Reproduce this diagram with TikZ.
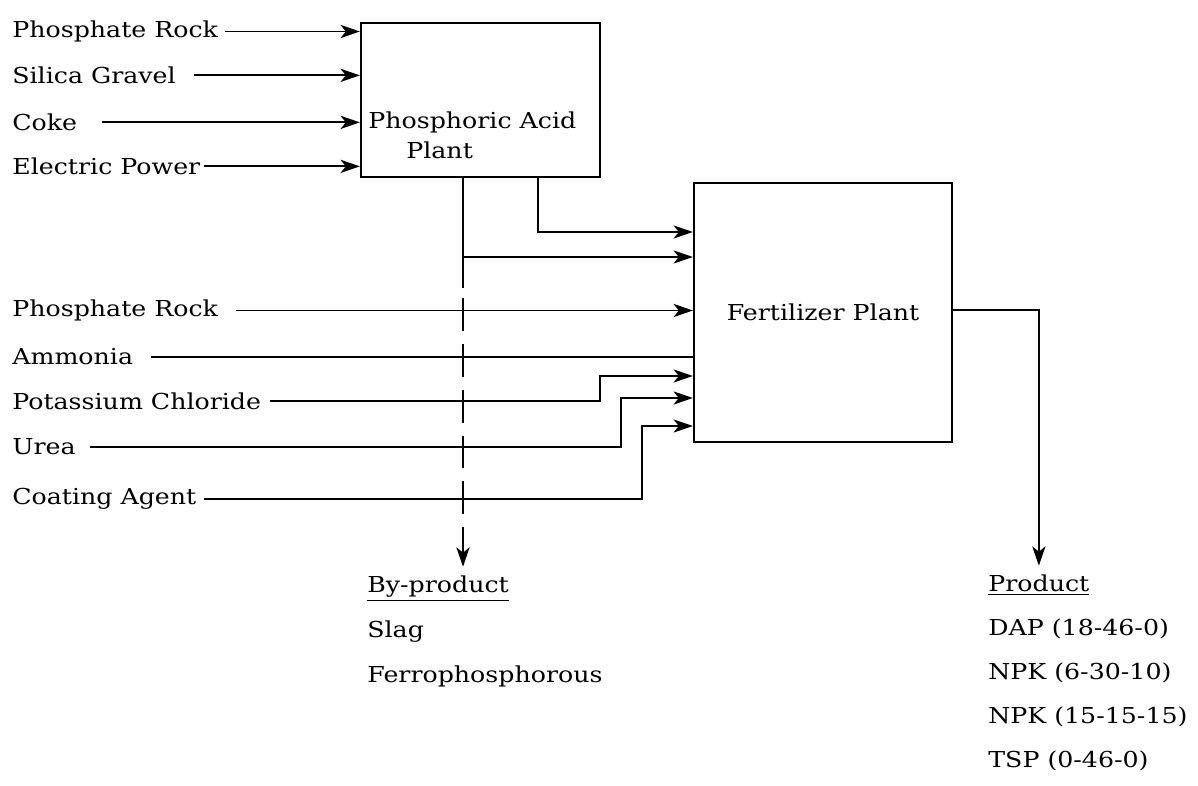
\documentclass[tikz,border=0pt]{standalone}
\usepackage{fontspec}
\setmainfont{DejaVu Serif}[FakeStretch=1.15]
\usetikzlibrary{arrows.meta,positioning,calc}
\tikzset{
  pipe/.style={line width=1.1pt},
  feed/.style={pipe, -{Stealth[length=11pt,width=7.5pt,inset=3pt]}},
  tag/.style={anchor=mid west, inner sep=0pt, font=\fontsize{12.5}{15}\selectfont},
  plant/.style={draw, line width=1.3pt, inner sep=0pt, font=\fontsize{12.5}{15}\selectfont},
}

\begin{document}
\begin{tikzpicture}[x=0.02cm,y=-0.02cm]
  \useasboundingbox (0,0) rectangle (1198,786);
  % the two plants
  \node[plant, minimum width=4.78cm, minimum height=3.08cm] (acid) at (480.5,100) {};
  \node[tag] (acidname) at (368,124) {Phosphoric Acid};
  \node[tag] (acidname2) at (406,154) {Plant};
  \node[plant, minimum width=5.16cm, minimum height=5.18cm] (fert) at (823,312.5) {Fertilizer Plant};
  % feeds of the acid plant
  \node[tag] (rockA)  at (12,33)  {Phosphate Rock};
  \node[tag] (silica) at (12,79)  {Silica Gravel};
  \node[tag] (coke)   at (12,126) {Coke};
  \node[tag] (power)  at (12,170) {Electric Power};
  \draw[feed, shorten <=4pt]  (rockA)  -- (rockA -| acid.west);
  \draw[feed, shorten <=10pt] (silica) -- (silica -| acid.west);
  \draw[feed, shorten <=14pt] (coke)   -- (coke -| acid.west);
  \draw[feed, shorten <=2pt]  (power)  -- (power -| acid.west);
  % feeds of the fertilizer plant
  \node[tag] (rockB)   at (12,312) {Phosphate Rock};
  \node[tag] (ammonia) at (12,360) {Ammonia};
  \node[tag] (kcl)     at (12,405) {Potassium Chloride};
  \node[tag] (urea)    at (12,450) {Urea};
  \node[tag] (coating) at (12,500) {Coating Agent};
  \draw[feed, shorten <=10pt] (rockB) -- (rockB -| fert.west);
  \draw[pipe, shorten <=10pt] (ammonia) -- (ammonia -| fert.west);
  \draw[feed, shorten <=5pt] (kcl) -- (kcl -| 600,0) |- (fert.west |- 0,376);
  \draw[feed, shorten <=8pt] (urea) -- (urea -| 621,0) |- (fert.west |- 0,398);
  \draw[feed, shorten <=4pt] (coating) -- (coating -| 642,0) |- (fert.west |- 0,426);
  % acid to fertilizer, and the by-product drop
  \coordinate (branch) at (463,257);
  \coordinate (dashtop) at (463,298);
  \draw[feed] (acid.south -| 538,0) |- (fert.west |- 0,232);
  \draw[pipe] (acid.south -| 463,0) -- (463,288);
  \draw[feed] (branch) -- (fert.west |- branch);
  \node[tag] (byprod) at (367,588) {\underline{By-product}};
  \node[tag] (slag)   at (367,633) {Slag};
  \node[tag] (ferro)  at (367,678) {Ferrophosphorous};
  \draw[feed, dash pattern=on 18.7pt off 7.4pt, shorten >=5pt] (dashtop) -- (byprod.north -| dashtop);
  % product
  \node[tag] (prod) at (988,587) {\underline{Product}};
  \foreach \grade [count=\i] in {DAP (18-46-0), NPK (6-30-10), NPK (15-15-15), TSP (0-46-0)}
    \node[tag] (grade\i) at (988,{587+44*\i}) {\grade};
  \draw[feed, shorten >=5pt] (fert.east |- 0,310) -| (prod.north);
\end{tikzpicture}
\end{document}
